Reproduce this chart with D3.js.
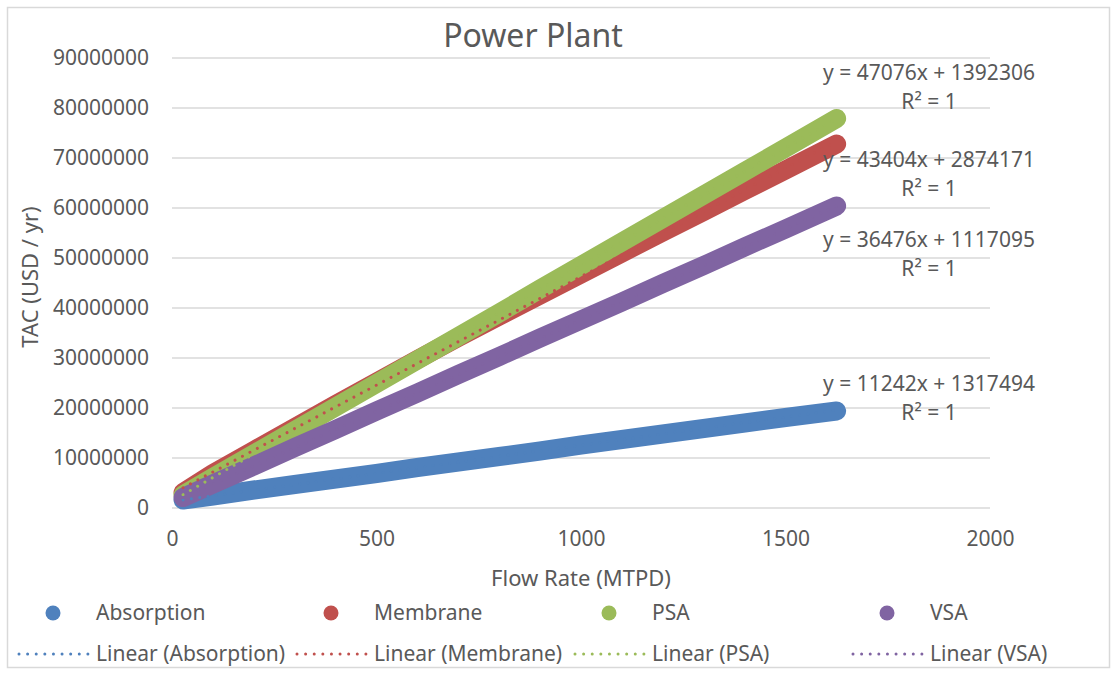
<!DOCTYPE html>
<html>
<head>
<meta charset="utf-8">
<script src="https://cdn.jsdelivr.net/npm/d3@7"></script>
<style>
  body { margin: 0; background: #fff; }
  svg text { font-family: "Noto Sans", "Open Sans", sans-serif; fill: #595959; }
</style>
</head>
<body>
<div id="chart"></div>
<script>
// Data (x in MTPD, y in USD / yr)
const flowRate = [27, 100, 200, 300, 400, 500, 600, 700, 800, 900, 1000, 1100, 1200, 1300, 1400, 1500, 1625]
const absorption = [1600000, 2400000, 3600000, 4700000, 5800000, 6900000, 8100000, 9200000, 10300000, 11400000, 12600000, 13700000, 14800000, 15900000, 17000000, 18100000, 19400000]
const membrane = [3100000, 6900000, 11500000, 16100000, 20700000, 25200000, 29700000, 34100000, 38400000, 42600000, 46800000, 51000000, 55200000, 59300000, 63500000, 67600000, 72800000]
const psa = [2600000, 6100000, 10800000, 15500000, 20200000, 24900000, 29600000, 34300000, 39000000, 43800000, 48500000, 53200000, 57900000, 62600000, 67300000, 72000000, 77900000]
const vsa = [2100000, 4800000, 8400000, 12100000, 15700000, 19400000, 23000000, 26700000, 30300000, 34000000, 37600000, 41200000, 44900000, 48500000, 52200000, 55800000, 60400000]

const seriesNames = ["Absorption", "Membrane", "PSA", "VSA"]
const seriesColors = ["#4F81BD", "#C0504D", "#9BBB59", "#8064A2"]
// trendline equations shown on the chart
const slopes = [11242, 43404, 47076, 36476]
const intercepts = [1317494, 2874171, 1392306, 1117095]
const rSquared = ["1", "1", "1", "1"]

const xTicks = [0, 500, 1000, 1500, 2000]
const yTicks = [0, 10000000, 20000000, 30000000, 40000000, 50000000, 60000000, 70000000, 80000000, 90000000]

const seriesValues = [absorption, membrane, psa, vsa]

// Dimensions
const dimensions = {
  width: 1117,
  height: 674,
  margin: { top: 58, right: 127, bottom: 166, left: 172 },
}
dimensions.boundedWidth = dimensions.width - dimensions.margin.left - dimensions.margin.right
dimensions.boundedHeight = dimensions.height - dimensions.margin.top - dimensions.margin.bottom

const wrapper = d3.select("#chart")
  .append("svg")
  .attr("width", dimensions.width)
  .attr("height", dimensions.height)

// chart border
wrapper.append("rect")
  .attr("x", 7.5).attr("y", 7.5)
  .attr("width", 1102).attr("height", 660)
  .attr("fill", "none")
  .attr("stroke", "#D9D9D9")
  .attr("stroke-width", 1.5)

const bounds = wrapper.append("g")
  .attr("transform", `translate(${dimensions.margin.left},${dimensions.margin.top})`)

// Scales
const xScale = d3.scaleLinear()
  .domain([0, 2000])
  .range([0, dimensions.boundedWidth])
const yScale = d3.scaleLinear()
  .domain([0, 90000000])
  .range([dimensions.boundedHeight, 0])

// gridlines
bounds.append("g")
  .selectAll("line")
  .data(yTicks)
  .join("line")
    .attr("x1", 0)
    .attr("x2", dimensions.boundedWidth)
    .attr("y1", d => yScale(d))
    .attr("y2", d => yScale(d))
    .attr("stroke", "#D9D9D9")
    .attr("stroke-width", 1.5)

// axes
const yAxis = bounds.append("g")
  .call(d3.axisLeft(yScale).tickValues(yTicks).tickFormat(d3.format("d")).tickSize(0).tickPadding(23))
yAxis.select(".domain").remove()
yAxis.selectAll("text")
  .attr("font-size", 21)
  .attr("font-family", "Noto Sans")
  .attr("fill", "#595959")

const xAxis = bounds.append("g")
  .attr("transform", `translate(0,${dimensions.boundedHeight})`)
  .call(d3.axisBottom(xScale).tickValues(xTicks).tickFormat(d3.format("d")).tickSize(0).tickPadding(23))
xAxis.select(".domain").remove()
xAxis.selectAll("text")
  .attr("font-size", 21)
  .attr("font-family", "Noto Sans")
  .attr("fill", "#595959")

// series (dense markers drawn as a thick round band)
const lineGenerator = d3.line()
  .x((d, i) => xScale(flowRate[i]))
  .y(d => yScale(d))

seriesValues.forEach((values, i) => {
  bounds.append("path")
    .datum(values)
    .attr("fill", "none")
    .attr("stroke", seriesColors[i])
    .attr("stroke-width", 19)
    .attr("stroke-linecap", "round")
    .attr("stroke-linejoin", "round")
    .attr("d", lineGenerator)
})

// trendlines
const xExtent = d3.extent(flowRate)
seriesNames.forEach((name, i) => {
  const trend = xExtent.map(x => [x, slopes[i] * x + intercepts[i]])
  bounds.append("path")
    .datum(trend)
    .attr("fill", "none")
    .attr("stroke", seriesColors[i])
    .attr("stroke-width", 3)
    .attr("stroke-linecap", "round")
    .attr("stroke-dasharray", "0.01 8.4")
    .attr("d", d3.line().x(d => xScale(d[0])).y(d => yScale(d[1])))
})

// trendline labels
const labelY = [384, 160, 73, 240]
seriesNames.forEach((name, i) => {
  const g = wrapper.append("g").attr("transform", `translate(929,${labelY[i]})`)
  g.append("text")
    .attr("text-anchor", "middle")
    .attr("y", 7)
    .attr("font-size", 21)
    .text(`y = ${slopes[i]}x + ${intercepts[i]}`)
  g.append("text")
    .attr("text-anchor", "middle")
    .attr("y", 36)
    .attr("font-size", 21)
    .text(`R² = ${rSquared[i]}`)
})

// titles
wrapper.append("text")
  .attr("x", dimensions.margin.left + dimensions.boundedWidth / 2 - 48)
  .attr("y", 47)
  .attr("text-anchor", "middle")
  .attr("font-size", 32)
  .text("Power Plant")

wrapper.append("text")
  .attr("x", dimensions.margin.left + dimensions.boundedWidth / 2)
  .attr("y", 586)
  .attr("text-anchor", "middle")
  .attr("font-size", 22)
  .text("Flow Rate (MTPD)")

wrapper.append("text")
  .attr("transform", `translate(38,${dimensions.margin.top + dimensions.boundedHeight / 2 - 6}) rotate(-90)`)
  .attr("text-anchor", "middle")
  .attr("font-size", 22)
  .text("TAC (USD / yr)")

// legend
const legend = wrapper.append("g")
seriesNames.forEach((name, i) => {
  const x0 = 18 + i * 278
  legend.append("circle")
    .attr("cx", x0 + 35)
    .attr("cy", 613)
    .attr("r", 7.5)
    .attr("fill", seriesColors[i])
  legend.append("text")
    .attr("x", x0 + 78)
    .attr("y", 620)
    .attr("font-size", 21)
    .text(name)
  legend.append("line")
    .attr("x1", x0 + 1)
    .attr("x2", x0 + 70)
    .attr("y1", 654)
    .attr("y2", 654)
    .attr("stroke", seriesColors[i])
    .attr("stroke-width", 3)
    .attr("stroke-linecap", "round")
    .attr("stroke-dasharray", "0.01 8.6")
  legend.append("text")
    .attr("x", x0 + 78)
    .attr("y", 661)
    .attr("font-size", 21)
    .text(`Linear (${name})`)
})
</script>
</body>
</html>
